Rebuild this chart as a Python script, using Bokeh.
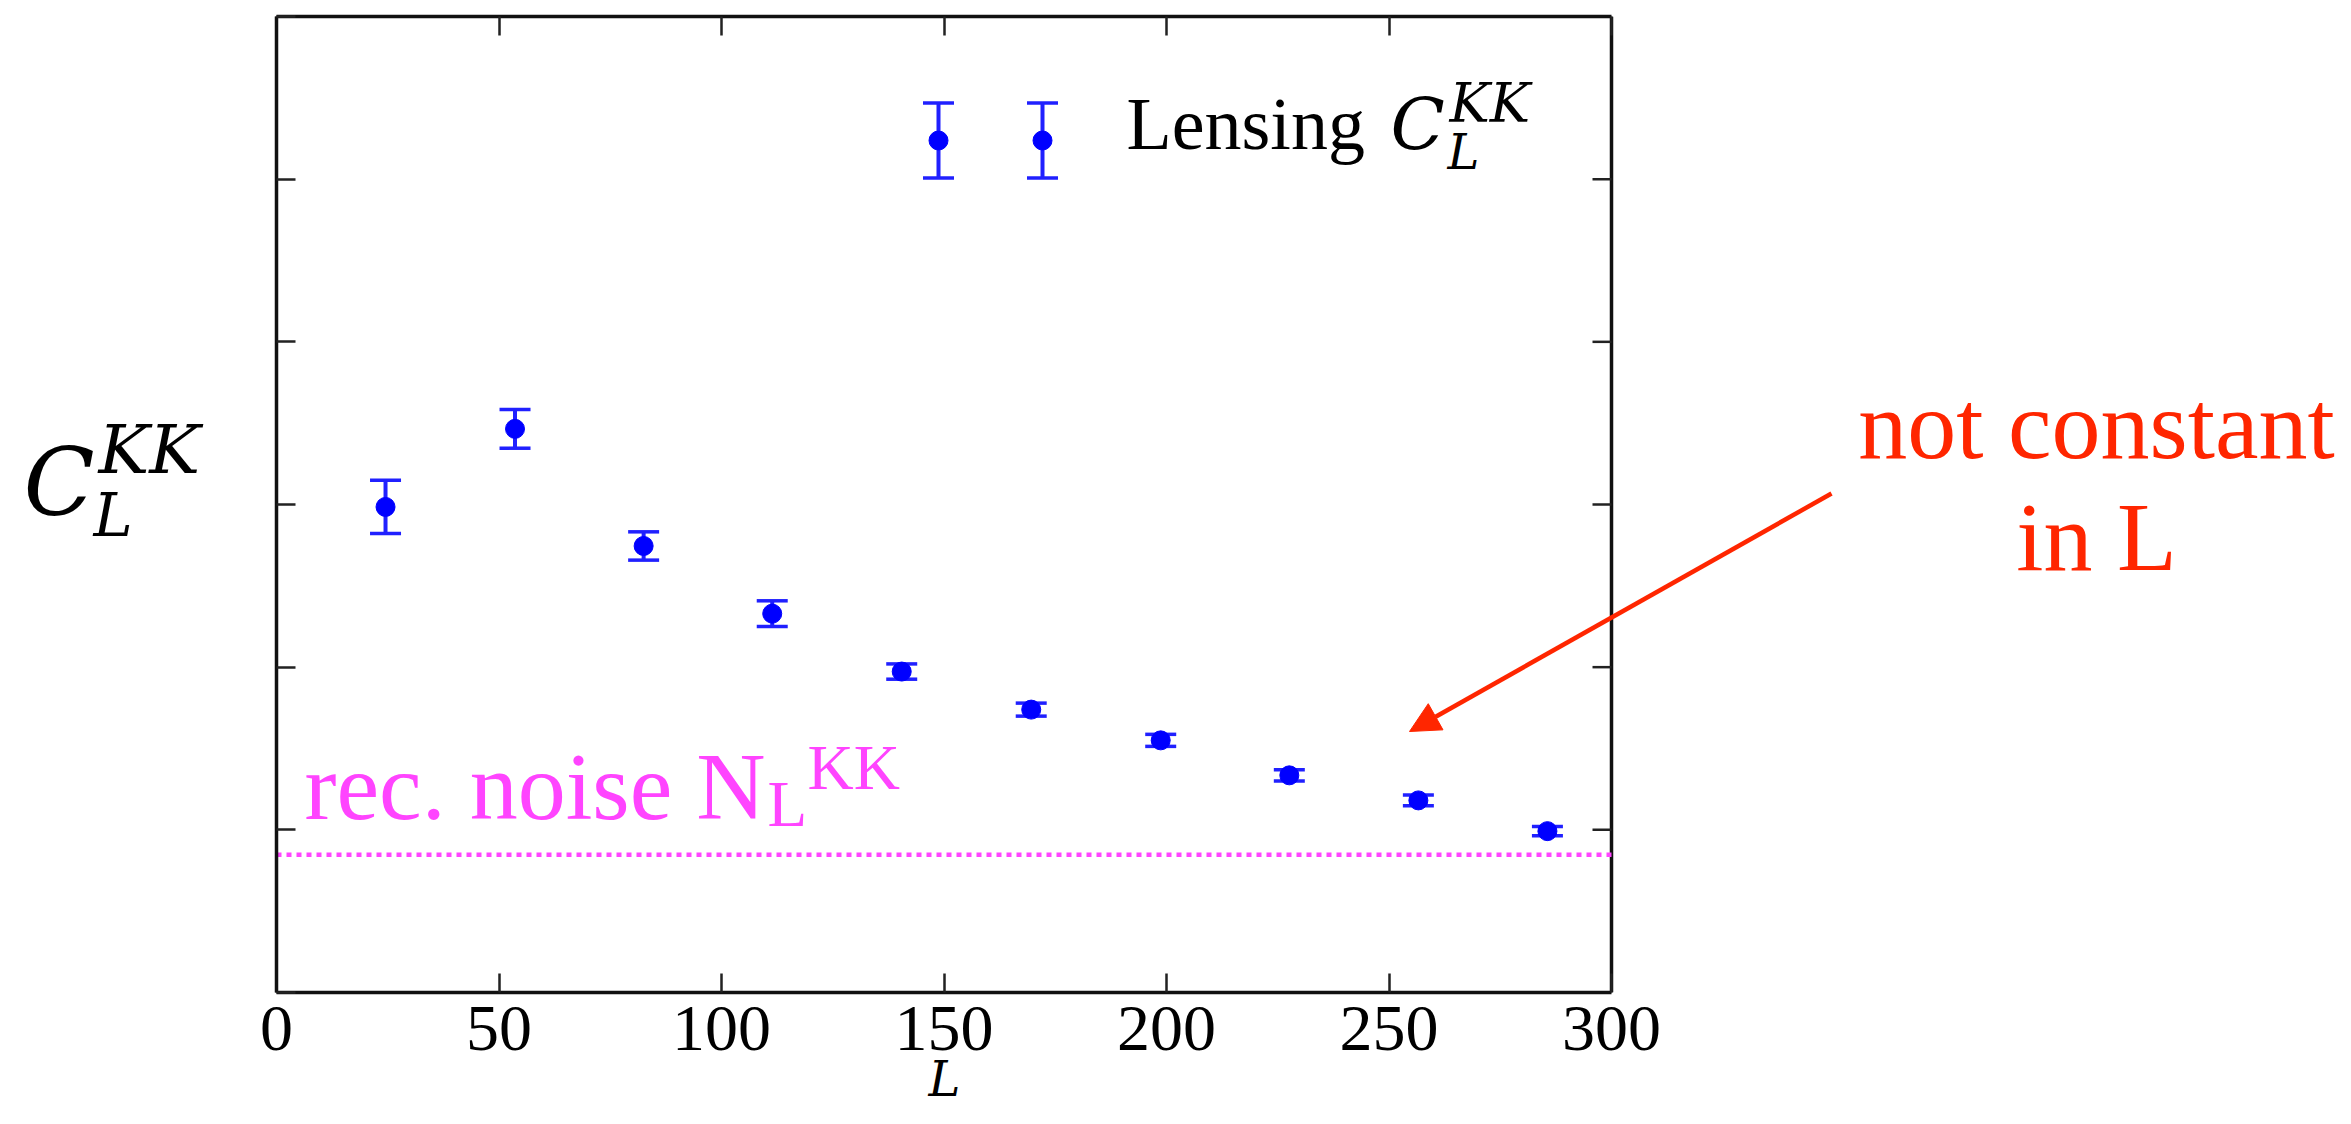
from bokeh.plotting import figure
from bokeh.models import (ColumnDataSource, Whisker, TeeHead, Label, Arrow,
                          NormalHead, LinearAxis, FixedTicker, Range1d)
from bokeh.embed import file_html
from bokeh.resources import INLINE

# ---------------- data ----------------
L_vals = [24.5, 53.6, 82.5, 111.4, 140.5, 169.6, 198.7, 227.6, 256.6, 285.6]
C_vals = [2.985, 3.465, 2.745, 2.329, 1.973, 1.739, 1.550, 1.335, 1.181, 0.992]
C_err = [0.164, 0.119, 0.087, 0.079, 0.047, 0.040, 0.037, 0.035, 0.033, 0.029]
noise_level = 0.847
x_ticks = [0, 50, 100, 150, 200, 250, 300]
x_tick_labels = ["0", "50", "100", "150", "200", "250", "300"]
y_ticks = [0, 1, 2, 3, 4, 5, 6]

# ---------------- layout ----------------
W, H = 2335, 1108
FX0, FX1, FY0, FY1 = 276, 1611, 16, 992   # axes box in canvas pixels
XMIN, XMAX, YMIN, YMAX = 0, 300, 0, 6
TICK = 19
BOX_W = 3.5

def dx(px):
    return XMIN + (px - FX0) / (FX1 - FX0) * (XMAX - XMIN)

def dy(py):
    return YMIN + (FY1 - py) / (FY1 - FY0) * (YMAX - YMIN)

BLUE = "#0000ff"
BAR = "#2020ff"
MAG = "#ff44ff"
RED = "#ff2600"
INK = "#111111"

# the frame is extended to the right edge of the canvas so that the
# annotation at the right ("not constant in L" + arrow) is not clipped
p = figure(width=W, height=H, x_range=Range1d(XMIN, dx(W)), y_range=Range1d(YMIN, YMAX),
           output_backend="svg", toolbar_location=None,
           min_border_left=FX0, min_border_right=0,
           min_border_top=FY0, min_border_bottom=H - FY1)
p.xgrid.grid_line_color = None
p.ygrid.grid_line_color = None
p.outline_line_color = None
p.background_fill_color = "white"
p.border_fill_color = "white"

def style_axis(ax, ticks, show_labels, bounds=None):
    ax.ticker = FixedTicker(ticks=ticks)
    if bounds is not None:
        ax.bounds = bounds
    ax.axis_line_color = INK
    ax.axis_line_width = BOX_W
    ax.major_tick_in = TICK
    ax.major_tick_out = 0
    ax.minor_tick_line_color = None
    ax.major_tick_line_width = 2.5
    ax.major_tick_line_color = "#222222"
    if show_labels:
        ax.major_label_text_font = "Liberation Serif"
        ax.major_label_text_font_size = "66px"
        ax.major_label_text_color = "black"
        ax.major_label_standoff = 14
    else:
        ax.major_label_text_font_size = "1px"
        ax.major_label_text_color = None
        ax.major_label_standoff = 0

style_axis(p.xaxis[0], x_ticks, True, bounds=(XMIN, XMAX))
p.xaxis[0].major_label_overrides = {t: s for t, s in zip(x_ticks, x_tick_labels)}
style_axis(p.yaxis[0], y_ticks, False)

top_ax = LinearAxis()
style_axis(top_ax, x_ticks, False, bounds=(XMIN, XMAX))
p.add_layout(top_ax, "above")

# right side of the axes box, with inward ticks
tick_units = TICK / (FX1 - FX0) * (XMAX - XMIN)
p.segment(x0=[XMAX], y0=[YMIN], x1=[XMAX], y1=[YMAX], line_color=INK, line_width=BOX_W)
p.segment(x0=[XMAX - tick_units] * len(y_ticks), x1=[XMAX] * len(y_ticks),
          y0=y_ticks, y1=y_ticks, line_color="#222222", line_width=2.5)

# ---------------- data points with error bars ----------------
src = ColumnDataSource(dict(
    x=L_vals, y=C_vals,
    lo=[c - e for c, e in zip(C_vals, C_err)],
    hi=[c + e for c, e in zip(C_vals, C_err)],
))

def add_errorbars(source):
    w = Whisker(base="x", lower="lo", upper="hi", source=source,
                line_color=BAR, line_width=4,
                lower_head=TeeHead(size=31, line_color=BAR, line_width=3.5),
                upper_head=TeeHead(size=31, line_color=BAR, line_width=3.5))
    p.add_layout(w)
    p.scatter("x", "y", source=source, size=19, fill_color=BLUE, line_color=BLUE)

add_errorbars(src)

# legend key: two error-bar points (numpoints=2), drawn by hand
leg_y = dy(140)
leg_e = 0.23
leg_src = ColumnDataSource(dict(x=[dx(938), dx(1042)], y=[leg_y, leg_y],
                                lo=[leg_y - leg_e] * 2, hi=[leg_y + leg_e] * 2))
add_errorbars(leg_src)

METRICS = {"Liberation Serif": (0.891, 0.216), "DejaVu Serif": (0.928, 0.236)}

def lab(text, px, py, size, font="Liberation Serif", style="normal", color="black",
        align="left", place=None):
    """px, py: left (or centre) x and text baseline y, in canvas pixels."""
    asc, desc = METRICS[font]
    mid = py - (asc - desc) / 2 * size
    l = Label(x=dx(px), y=dy(mid), text=text, text_font=font, text_font_style=style,
              text_font_size=f"{size}px", text_color=color, text_align=align,
              text_baseline="middle")
    if place is None:
        p.add_layout(l)
    else:
        p.add_layout(l, place)

MATH = "DejaVu Serif"

# legend label: Lensing C_L^{KK}
lab("Lensing", 1126, 148, 74)
lab("C", 1390, 149, 71, font=MATH, style="italic")
lab("KK", 1449, 122, 54, font=MATH, style="italic")
lab("L", 1447, 168, 48, font=MATH, style="italic")

# y-axis label C_L^{KK} and x-axis label L (outside the box -> side panel)
lab("C", 23, 515, 93, font=MATH, style="italic", place="left")
lab("KK", 98, 473, 68, font=MATH, style="italic", place="left")
lab("L", 93, 535, 59, font=MATH, style="italic", place="left")
lab("L", 928, 1095, 48, font=MATH, style="italic", place="left")

# reconstruction noise
p.line(x=[XMIN, XMAX], y=[noise_level, noise_level], line_color=MAG,
       line_width=4.5, line_dash="5 5")
lab("rec. noise N", 304, 818, 96, color=MAG)
lab("L", 767, 825, 65, color=MAG)
lab("KK", 807, 789, 64, color=MAG)

# annotation
lab("not constant", 2096, 458, 98, color=RED, align="center")
lab("in L", 2096, 570, 98, color=RED, align="center")
p.add_layout(Arrow(x_start=dx(1831), y_start=dy(493), x_end=dx(1409), y_end=dy(731),
                   line_color=RED, line_width=4.5,
                   end=NormalHead(size=30, fill_color=RED, line_color=RED)))

open("out.html", "w").write(file_html(p, INLINE))
